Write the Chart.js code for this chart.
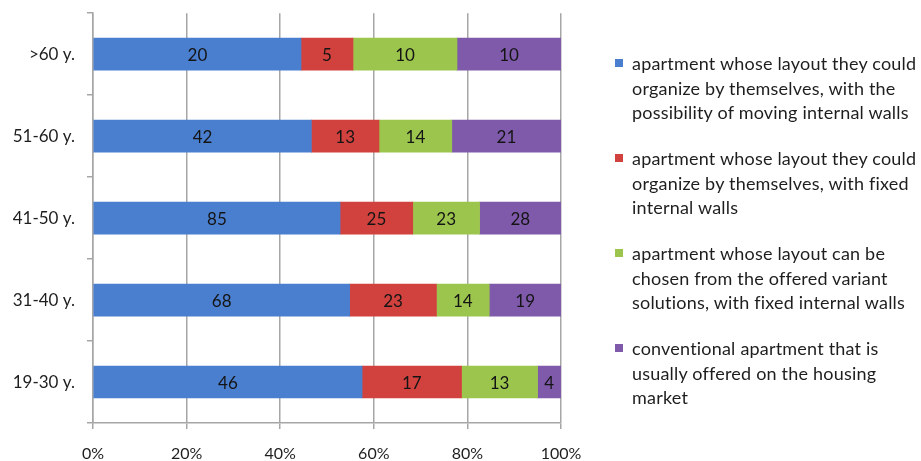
<!DOCTYPE html>
<html>
<head>
<meta charset="utf-8">
<script src="https://cdn.jsdelivr.net/npm/chart.js@4.4.1/dist/chart.umd.min.js"></script>
<style>
  html, body { margin: 0; padding: 0; background: #fff; overflow: hidden; }
  #wrap { position: relative; width: 921px; height: 461px; overflow: hidden; }
  #c { position: absolute; left: 0; top: -9px; }
  #legend { position: absolute; left: 615px; top: 51px; width: 306px; white-space: nowrap;
    font-family: 'Lato', sans-serif; font-size: 18px; letter-spacing: 0.2px; line-height: 24.5px; color: #1e1e1e; }
  .item { position: relative; padding-left: 17px; margin-bottom: 21.5px; }
  .sw { position: absolute; left: 0; top: 8px; width: 8px; height: 8px; }
</style>
</head>
<body>
<div id="wrap">
  <canvas id="c" width="921" height="470"></canvas>
  <div id="legend"></div>
</div>
<script>
// ---- data ----
const categories = ['>60 y.', '51-60 y.', '41-50 y.', '31-40 y.', '19-30 y.'];
const movingWalls = [20, 42, 85, 68, 46];
const fixedWalls = [5, 13, 25, 23, 17];
const variantSolutions = [10, 14, 23, 14, 13];
const conventional = [10, 21, 28, 19, 4];
const xTicks = [0, 20, 40, 60, 80, 100];

const seriesNames = [
    ['apartment whose layout they could', 'organize by themselves, with the', 'possibility of moving internal walls'],
    ['apartment whose layout they could', 'organize by themselves, with fixed', 'internal walls'],
    ['apartment whose layout can be', 'chosen from the offered variant', 'solutions, with fixed internal walls'],
    ['conventional apartment that is', 'usually offered on the housing', 'market']
];
const colors = ['#4a7fcf', '#d1423f', '#9cc54e', '#7f5aab'];
const fontFamily = "'Lato', sans-serif";

const raw = [movingWalls, fixedWalls, variantSolutions, conventional];
const totals = categories.map((_, i) => raw.reduce((s, arr) => s + arr[i], 0));

// draws the raw counts in the middle of each segment
const valueLabels = {
    id: 'valueLabels',
    afterDatasetsDraw(chart) {
        const ctx = chart.ctx;
        ctx.save();
        ctx.font = '17px ' + fontFamily;
        ctx.fillStyle = '#141414';
        ctx.textAlign = 'center';
        ctx.textBaseline = 'middle';
        chart.data.datasets.forEach((ds, di) => {
            chart.getDatasetMeta(di).data.forEach((bar, i) => {
                const p = bar.getProps(['x', 'y', 'base'], true);
                ctx.fillText(String(ds.raw[i]), (p.x + p.base) / 2, p.y + 1);
            });
        });
        ctx.restore();
    }
};

new Chart(document.getElementById('c'), {
    type: 'bar',
    data: {
        labels: categories,
        datasets: raw.map((arr, k) => ({
            label: seriesNames[k].join(' '),
            raw: arr,
            data: arr.map((v, i) => v / totals[i] * 100),
            backgroundColor: colors[k],
            borderWidth: 0,
            barThickness: 32
        }))
    },
    options: {
        indexAxis: 'y',
        responsive: false,
        animation: false,
        layout: { padding: { top: 6, right: 360, left: 0, bottom: 0 } },
        plugins: { legend: { display: false }, tooltip: { enabled: false } },
        scales: {
            x: {
                stacked: true,
                min: 0, max: 100,
                afterBuildTicks: s => { s.ticks = xTicks.map(v => ({ value: v })); },
                afterFit: s => { s.height = 38; },
                grid: { color: '#a6a6a6', lineWidth: 1.5, tickLength: 6 },
                border: { color: '#a6a6a6', width: 1.5 },
                ticks: {
                    color: '#1e1e1e', padding: 15,
                    font: { family: fontFamily, size: 16 },
                    callback: v => v + '%'
                }
            },
            y: {
                stacked: true,
                afterFit: s => { s.width = 93; },
                grid: { drawOnChartArea: false, color: '#a6a6a6', lineWidth: 1.5, tickLength: 6, offset: true },
                border: { color: '#a6a6a6', width: 1.5 },
                ticks: { color: '#1e1e1e', padding: 12, font: { family: fontFamily, size: 17 } }
            }
        }
    },
    plugins: [valueLabels]
});

// legend as real text beside the chart
const legend = document.getElementById('legend');
seriesNames.forEach((lines, k) => {
    const d = document.createElement('div');
    d.className = 'item';
    d.innerHTML = '<span class="sw" style="background:' + colors[k] + '"></span>' + lines.join('<br>');
    legend.appendChild(d);
});
</script>
</body>
</html>
